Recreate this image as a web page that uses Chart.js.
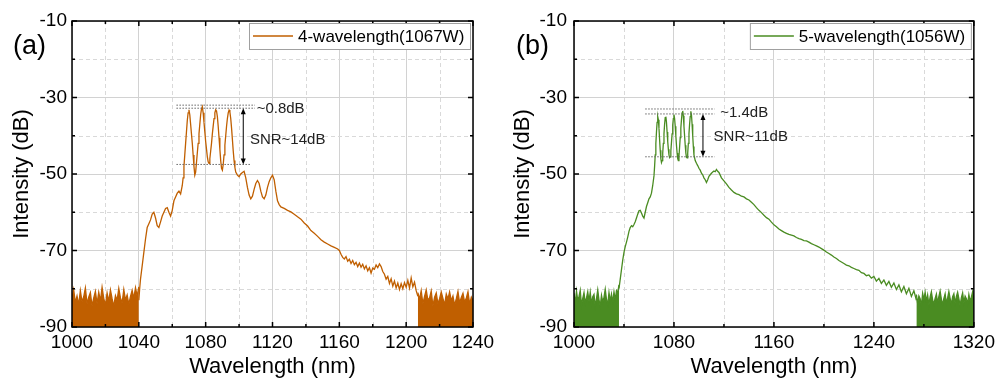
<!DOCTYPE html>
<html>
<head>
<meta charset="utf-8">
<script src="https://cdn.jsdelivr.net/npm/chart.js@4.4.0/dist/chart.umd.min.js"></script>
<style>
  body { margin: 0; background: #fff; }
  #wrap { position: relative; width: 999px; height: 384px; }
  .panel { position: absolute; top: 0; height: 384px; }
</style>
</head>
<body>
<div id="wrap">
  <div class="panel" style="left:0;width:500px"><canvas id="chartA" width="500" height="384"></canvas></div>
  <div class="panel" style="left:500px;width:499px"><canvas id="chartB" width="499" height="384"></canvas></div>
</div>
<script>
// ---- data: [wavelength nm, intensity dB] ----

// panel (a) 4-wavelength(1067W)
const floorA1 = [[1000,-82.5],[1001,-80.2],[1002,-83.6],[1003,-81.9],[1004,-84.2],[1005,-80.5],[1006,-83.4],[1007,-82.1],[1008,-79.8],[1009,-83.9],
  [1010,-82.2],[1011,-81.0],[1012,-84.5],[1013,-82.4],[1014,-80.7],[1015,-83.9],[1016,-80.9],[1017,-83.2],[1018,-79.6],[1019,-82.5],
  [1020,-84.3],[1021,-81.1],[1022,-83.3],[1023,-80.3],[1024,-82.6],[1025,-84.6],[1026,-81.8],[1027,-83.0],[1028,-79.9],[1029,-82.4],
  [1030,-83.7],[1031,-80.2],[1032,-82.9],[1033,-81.6],[1034,-84.1],[1035,-82.0],[1036,-80.4],[1037,-82.5],[1038,-79.7],[1039,-81.9],[1040,-79.5]];

const mainA = [[1040,-83],[1040.5,-80],[1041,-77.5],[1042,-74],[1043,-70.5],[1044,-67],[1045,-64],[1046,-63],[1047,-62],[1048,-60.5],
  [1049,-60],[1050,-61.5],[1051,-63.5],[1052,-64],[1053,-62.5],[1054,-61],[1055,-60],[1056,-59],[1057,-58.8],[1058,-60],
  [1059,-61],[1060,-59.5],[1061,-57],[1062,-56],[1063,-55],[1064,-54.5],[1065,-55.2],[1066,-53],[1066.5,-51],[1067,-48],
  [1067.5,-45],[1068,-42],[1068.5,-39],[1069,-36],[1069.5,-34],[1070,-33.2],[1070.5,-34.5],[1071,-37],[1071.5,-39.5],[1072,-42],
  [1072.5,-45],[1073,-48],[1073.5,-50.3],[1074,-49.5],[1074.5,-47],[1075,-44.5],[1075.5,-42],[1076,-39.5],[1076.5,-37],[1077,-34.5],
  [1077.5,-33],[1078,-32.4],[1078.5,-34],[1079,-36.5],[1079.5,-39],[1080,-41.5],[1080.5,-43.5],[1081,-45.5],[1081.5,-46.8],[1082,-47.2],
  [1082.5,-46],[1083,-44],[1083.5,-42],[1084,-39.5],[1084.5,-37.5],[1085,-35.5],[1085.5,-34],[1086,-33.2],[1086.5,-33.5],[1087,-35],
  [1087.5,-37.5],[1088,-40.5],[1088.5,-43.5],[1089,-46.5],[1089.5,-48.5],[1090,-49],[1090.5,-47.5],[1091,-45],[1091.5,-42.5],[1092,-40],
  [1092.5,-37.5],[1093,-35.5],[1093.5,-34],[1094,-33.3],[1094.5,-33.8],[1095,-35.5],[1095.5,-38],[1096,-41],[1096.5,-44],[1097,-46.5],
  [1097.5,-48.3],[1098,-49.5],[1099,-50.3],[1100,-50.7],[1101,-50],[1102,-49.6],[1103,-49.3],[1104,-51],[1105,-53.5],[1106,-55.5],
  [1107,-56.5],[1108,-55.8],[1109,-54],[1110,-52.5],[1111,-51.7],[1112,-52.5],[1113,-54.5],[1114,-56],[1115,-56.5],[1116,-55.5],
  [1117,-53.5],[1118,-52],[1119,-51],[1120,-50.3],[1121,-51.5],[1122,-54.5],[1123,-57],[1124,-58],[1125,-58.6],[1127,-59],
  [1129,-59.5],[1131,-59.9],[1133,-60.5],[1135,-61.2],[1137,-61.8],[1139,-62.8],[1141,-63.6],[1143,-64.8],[1145,-65.5],[1147,-66.3],
  [1149,-67.2],[1151,-67.8],[1153,-68.3],[1155,-68.8],[1157,-69.2],[1159,-69.6],[1160,-70],[1161,-71],[1162,-71.8],[1163,-72.2],
  [1164,-71.6],[1165,-72.8],[1166,-72.3],[1167,-73.4],[1168,-72.6],[1169,-73.7],[1170,-73.1],[1171,-74.2],[1172,-73.3],[1173,-74.4],
  [1174,-73.6],[1175,-74.8],[1176,-74],[1177,-75.3],[1178,-74.5],[1179,-75.9],[1180,-74.6],[1181,-74.9],[1182,-73.8],[1183,-74.5],
  [1184,-73.5],[1185,-74.2],[1186,-75.5],[1187,-76.2],[1188,-77.5],[1189,-76.8],[1190,-78.6],[1191,-77.4],[1192,-79.3],[1193,-78],
  [1194,-79.8],[1195,-78.5],[1196,-80.2],[1197,-78.7],[1198,-80],[1199,-78.4],[1200,-79.6],[1201,-77.8],[1202,-79.8],[1203,-77.2],
  [1204,-79.5],[1205,-78.3],[1206,-80.5],[1207,-82]];

const floorA2 = [[1207,-81.0],[1208,-82.8],[1209,-80.5],[1210,-83.9],[1211,-82.0],[1212,-80.3],[1213,-83.0],[1214,-82.4],[1215,-80.6],[1216,-84.5],
  [1217,-82.2],[1218,-81.1],[1219,-83.9],[1220,-82.6],[1221,-80.8],[1222,-82.5],[1223,-84.2],[1224,-81.4],[1225,-82.7],[1226,-80.8],
  [1227,-83.1],[1228,-81.9],[1229,-84.3],[1230,-82.6],[1231,-80.7],[1232,-83.7],[1233,-82.3],[1234,-81.2],[1235,-83.5],[1236,-82.4],
  [1237,-80.8],[1238,-84.0],[1239,-82.2],[1240,-83.1]];

// panel (b) 5-wavelength(1056W)
const floorB1 = [[1000,-81.2],[1001,-83.8],[1002,-80.6],[1003,-83.1],[1004,-82.0],[1005,-80.4],[1006,-84.3],[1007,-82.5],[1008,-81.0],[1009,-83.7],
  [1010,-82.4],[1011,-80.8],[1012,-83.3],[1013,-80.9],[1014,-84.0],[1015,-82.1],[1016,-81.5],[1017,-84.6],[1018,-82.6],[1019,-80.3],
  [1020,-82.9],[1021,-84.5],[1022,-81.7],[1023,-83.4],[1024,-82.2],[1025,-80.1],[1026,-82.8],[1027,-84.2],[1028,-81.0],[1029,-83.2],
  [1030,-81.4],[1031,-83.6],[1032,-80.8],[1033,-82.9],[1034,-80.5],[1035,-81.0],[1036,-79.0]];

const mainB = [[1036,-80],[1037,-77.5],[1038,-75],[1039,-72.5],[1040,-70.5],[1041,-69],[1042,-67.8],[1043,-66.5],[1044,-65],[1045,-64],
  [1046,-63.5],[1047,-63.8],[1048,-63.2],[1049,-62.5],[1050,-61.5],[1051,-60.5],[1052,-59.6],[1053,-59.5],[1054,-60.2],[1055,-61],
  [1056,-61.5],[1057,-60],[1058,-58.5],[1059,-57.5],[1060,-56.5],[1061,-56],[1062,-55],[1063,-53],[1064,-50.5],[1064.5,-48],
  [1065,-45],[1065.5,-42],[1066,-39],[1066.5,-36.5],[1067,-35],[1067.5,-35.8],[1068,-38],[1068.5,-41],[1069,-43.8],[1069.5,-46],
  [1070,-47],[1070.5,-46.5],[1071,-44.5],[1071.5,-42],[1072,-39.5],[1072.5,-37],[1073,-35.3],[1073.5,-35],[1074,-36.5],[1074.5,-39],
  [1075,-41.5],[1075.5,-43.5],[1076,-45],[1076.5,-45.7],[1077,-45.5],[1077.5,-44],[1078,-41.8],[1078.5,-39.5],[1079,-37.2],[1079.5,-35.5],
  [1080,-34.5],[1080.5,-35.5],[1081,-37.5],[1081.5,-40],[1082,-42.5],[1082.5,-44.5],[1083,-46],[1083.5,-46.5],[1084,-45.4],[1084.5,-43],
  [1085,-40.5],[1085.5,-38],[1086,-35.8],[1086.5,-34],[1087,-33.5],[1087.5,-34.8],[1088,-37.5],[1088.5,-40],[1089,-42.5],[1089.5,-44.5],
  [1090,-45.6],[1090.5,-45.8],[1091,-44.5],[1091.5,-42],[1092,-39.5],[1092.5,-37],[1093,-35],[1093.5,-33.6],[1094,-34.5],[1094.5,-37],
  [1095,-40],[1095.5,-42.8],[1096,-45],[1097,-46.5],[1098,-47.2],[1099,-47.8],[1100,-48.5],[1101,-49],[1102,-49.8],[1103,-50.2],
  [1104,-51],[1105,-51.5],[1106,-52.2],[1107,-51.5],[1108,-50.6],[1109,-50.2],[1110,-49.8],[1111,-49.5],[1112,-49.2],[1113,-49.4],
  [1114,-48.8],[1115,-49.3],[1116,-49.6],[1117,-50.3],[1118,-51],[1120,-51.8],[1122,-52.6],[1124,-53.5],[1126,-54.2],[1128,-54.8],
  [1130,-55.2],[1132,-55.4],[1134,-55.8],[1136,-56],[1138,-56.5],[1140,-56.8],[1142,-57.4],[1144,-58],[1146,-58.8],[1148,-59.5],
  [1150,-60.1],[1152,-60.8],[1154,-61.4],[1156,-61.8],[1158,-62.6],[1160,-63.3],[1162,-63.8],[1164,-64.4],[1166,-64.8],[1168,-65.2],
  [1170,-65.5],[1172,-65.8],[1174,-66],[1176,-66.2],[1178,-66.6],[1180,-66.9],[1182,-67.1],[1184,-67.4],[1186,-67.5],[1188,-67.8],
  [1190,-68.2],[1192,-68.5],[1194,-68.8],[1196,-69.1],[1198,-69.5],[1200,-69.9],[1202,-70.4],[1204,-70.8],[1206,-71.2],[1208,-71.7],
  [1210,-72.1],[1212,-72.6],[1214,-73],[1216,-73.4],[1218,-73.8],[1220,-74],[1222,-74.4],[1224,-74.7],[1226,-75],[1228,-75.2],
  [1230,-75.8],[1232,-76],[1234,-76.6],[1236,-76.4],[1238,-77.2],[1240,-76.8],[1242,-78],[1244,-77.3],[1246,-78.6],[1248,-77.7],
  [1250,-79.1],[1252,-78.1],[1254,-79.6],[1256,-78.5],[1258,-80.2],[1260,-79],[1262,-80.8],[1264,-79.4],[1266,-81.3],[1268,-79.9],
  [1270,-82],[1272,-80.5],[1274,-83]];

const floorB2 = [[1274,-81.5],[1275,-83.9],[1276,-81.9],[1277,-82.6],[1278,-84.4],[1279,-81.2],[1280,-82.8],[1281,-80.9],[1282,-83.3],[1283,-81.6],
  [1284,-84.2],[1285,-82.1],[1286,-80.8],[1287,-82.9],[1288,-84.0],[1289,-82.5],[1290,-81.4],[1291,-83.7],[1292,-82.0],[1293,-80.6],
  [1294,-82.7],[1295,-84.2],[1296,-82.5],[1297,-81.3],[1298,-83.8],[1299,-82.4],[1300,-80.7],[1301,-82.5],[1302,-84.1],[1303,-82.1],
  [1304,-81.3],[1305,-83.8],[1306,-82.0],[1307,-80.9],[1308,-82.6],[1309,-84.4],[1310,-82.3],[1311,-81.1],[1312,-83.7],[1313,-81.9],
  [1314,-82.6],[1315,-84.0],[1316,-81.5],[1317,-83.2],[1318,-82.2],[1319,-80.8],[1320,-83.0]];

// tick labels
const xTicksA = [1000, 1040, 1080, 1120, 1160, 1200, 1240];
const xTicksB = [1000, 1080, 1160, 1240, 1320];
const yTicks = [-90, -70, -50, -30, -10];

const FONT = '"Liberation Sans", Arial, Helvetica, sans-serif';

function minorOf(ticks) {
  const out = [];
  for (let i = 0; i < ticks.length - 1; i++) out.push((ticks[i] + ticks[i + 1]) / 2);
  return out;
}

function decorPlugin(p) {
  return {
    id: 'decor',
    beforeDatasetsDraw(chart) {
      const { ctx, chartArea: a, scales: { x, y } } = chart;
      ctx.save();
      ctx.strokeStyle = '#d9d9d9';
      ctx.lineWidth = 1;
      ctx.setLineDash([4, 3]);
      minorOf(p.xTicks).forEach(v => {
        const px = Math.round(x.getPixelForValue(v)) + 0.5;
        ctx.beginPath(); ctx.moveTo(px, a.top); ctx.lineTo(px, a.bottom); ctx.stroke();
      });
      minorOf(yTicks).forEach(v => {
        const py = Math.round(y.getPixelForValue(v)) + 0.5;
        ctx.beginPath(); ctx.moveTo(a.left, py); ctx.lineTo(a.right, py); ctx.stroke();
      });
      ctx.restore();
    },
    afterDatasetsDraw(chart) {
      const { ctx, chartArea: a, scales: { x, y } } = chart;
      ctx.save();
      // frame
      ctx.strokeStyle = '#000';
      ctx.lineWidth = 1.5;
      ctx.strokeRect(a.left, a.top, a.right - a.left, a.bottom - a.top);
      // inward ticks on all sides
      const tick = (v, len, horiz) => {
        ctx.beginPath();
        if (horiz) {
          const px = x.getPixelForValue(v);
          ctx.moveTo(px, a.bottom); ctx.lineTo(px, a.bottom - len);
          ctx.moveTo(px, a.top); ctx.lineTo(px, a.top + len);
        } else {
          const py = y.getPixelForValue(v);
          ctx.moveTo(a.left, py); ctx.lineTo(a.left + len, py);
          ctx.moveTo(a.right, py); ctx.lineTo(a.right - len, py);
        }
        ctx.stroke();
      };
      p.xTicks.forEach(v => tick(v, 5, true));
      minorOf(p.xTicks).forEach(v => tick(v, 3, true));
      yTicks.forEach(v => tick(v, 5, false));
      minorOf(yTicks).forEach(v => tick(v, 3, false));

      // annotation: dotted levels, arrow, texts
      const n = p.note;
      ctx.strokeStyle = '#666';
      ctx.lineWidth = 1;
      ctx.setLineDash([1.5, 1.5]);
      n.top.forEach(lv => {
        const py = y.getPixelForValue(lv);
        ctx.beginPath(); ctx.moveTo(x.getPixelForValue(n.from), py); ctx.lineTo(x.getPixelForValue(n.to), py); ctx.stroke();
      });
      const pl = y.getPixelForValue(n.low);
      ctx.beginPath(); ctx.moveTo(x.getPixelForValue(n.from), pl); ctx.lineTo(x.getPixelForValue(n.lowTo), pl); ctx.stroke();
      ctx.setLineDash([]);
      const ax = x.getPixelForValue(n.arrowX);
      const ay1 = y.getPixelForValue(n.top[n.top.length - 1]);
      ctx.strokeStyle = '#000';
      ctx.fillStyle = '#000';
      ctx.beginPath(); ctx.moveTo(ax, ay1 + 3); ctx.lineTo(ax, pl - 3); ctx.stroke();
      ctx.beginPath(); ctx.moveTo(ax, ay1); ctx.lineTo(ax - 2.5, ay1 + 6); ctx.lineTo(ax + 2.5, ay1 + 6); ctx.closePath(); ctx.fill();
      ctx.beginPath(); ctx.moveTo(ax, pl); ctx.lineTo(ax - 2.5, pl - 6); ctx.lineTo(ax + 2.5, pl - 6); ctx.closePath(); ctx.fill();
      ctx.font = '15px ' + FONT;
      ctx.textAlign = 'left';
      ctx.textBaseline = 'middle';
      ctx.fillStyle = '#222';
      ctx.fillText(n.dbText, x.getPixelForValue(n.dbAt[0]), y.getPixelForValue(n.dbAt[1]));
      ctx.fillText(n.snrText, x.getPixelForValue(n.snrAt[0]), y.getPixelForValue(n.snrAt[1]));

      // legend box
      const bw = 221, bh = 26;
      const bx = a.right - 3 - bw, by = a.top + 2;
      ctx.fillStyle = '#fff';
      ctx.fillRect(bx, by, bw, bh);
      ctx.strokeStyle = '#a0a0a0';
      ctx.lineWidth = 1;
      ctx.strokeRect(bx + 0.5, by + 0.5, bw, bh);
      ctx.strokeStyle = p.color;
      ctx.lineWidth = 1.5;
      ctx.beginPath(); ctx.moveTo(bx + 4, by + bh / 2); ctx.lineTo(bx + 44, by + bh / 2); ctx.stroke();
      ctx.fillStyle = '#000';
      ctx.font = '17px ' + FONT;
      ctx.fillText(p.name, bx + 49, by + bh / 2 + 1);

      // panel label
      ctx.font = '27px ' + FONT;
      ctx.fillText(p.tag, p.tagX, 47);
      ctx.restore();
    }
  };
}

function makeChart(id, p) {
  const line = (pts, fill) => ({
    data: pts.map(q => ({ x: q[0], y: q[1] })),
    showLine: true,
    borderColor: p.color,
    backgroundColor: p.color,
    borderWidth: 1.3,
    pointRadius: 0,
    fill: fill ? 'start' : false,
    clip: 0
  });
  return new Chart(document.getElementById(id), {
    type: 'scatter',
    data: { datasets: [line(p.floor1, true), line(p.main, false), line(p.floor2, true)] },
    options: {
      responsive: false,
      animation: false,
      layout: { padding: { left: 0, top: 21, right: p.padRight, bottom: 0 } },
      plugins: { legend: { display: false }, tooltip: { enabled: false } },
      scales: {
        x: {
          type: 'linear', min: p.xTicks[0], max: p.xTicks[p.xTicks.length - 1],
          afterBuildTicks: s => { s.ticks = p.xTicks.map(v => ({ value: v })); },
          afterFit: s => { s.height = 57; },
          ticks: { color: '#000', font: { family: FONT, size: 19 }, padding: 4, maxRotation: 0, autoSkip: false,
                   callback: v => String(v) },
          grid: { color: '#d2d2d2', lineWidth: 1, drawTicks: false },
          border: { display: false },
          title: { display: true, text: 'Wavelength (nm)', color: '#000', font: { family: FONT, size: 22 }, padding: { top: 0, bottom: 4 } }
        },
        y: {
          type: 'linear', min: -90, max: -10,
          afterBuildTicks: s => { s.ticks = yTicks.map(v => ({ value: v })); },
          afterFit: s => { s.width = p.yWidth; },
          ticks: { color: '#000', font: { family: FONT, size: 19 }, padding: p.yPad, callback: v => String(v) },
          grid: { color: '#d2d2d2', lineWidth: 1, drawTicks: false },
          border: { display: false },
          title: { display: true, text: 'Intensity (dB)', color: '#000', font: { family: FONT, size: 22 }, padding: { top: p.titlePad, bottom: 0 } }
        }
      }
    },
    plugins: [decorPlugin(p)]
  });
}

makeChart('chartA', {
  floor1: floorA1, main: mainA, floor2: floorA2, xTicks: xTicksA,
  color: '#c05f00', name: '4-wavelength(1067W)', tag: '(a)', tagX: 13,
  padRight: 27, yWidth: 72, yPad: 5, titlePad: 9,
  note: { top: [-32.0, -32.8], low: -47.5, from: 1062.5, to: 1109.5, lowTo: 1106.5, arrowX: 1102.5,
          dbText: '~0.8dB', dbAt: [1110.5, -33], snrText: 'SNR~14dB', snrAt: [1106.5, -41.1] }
});

makeChart('chartB', {
  floor1: floorB1, main: mainB, floor2: floorB2, xTicks: xTicksB,
  color: '#4a8c22', name: '5-wavelength(1056W)', tag: '(b)', tagX: 16,
  padRight: 24, yWidth: 74, yPad: 7, titlePad: 10,
  note: { top: [-33.0, -34.3], low: -45.5, from: 1057, to: 1112.5, lowTo: 1112.5, arrowX: 1103.2,
          dbText: '~1.4dB', dbAt: [1117, -34.1], snrText: 'SNR~11dB', snrAt: [1111.7, -40.2] }
});
</script>
</body>
</html>
